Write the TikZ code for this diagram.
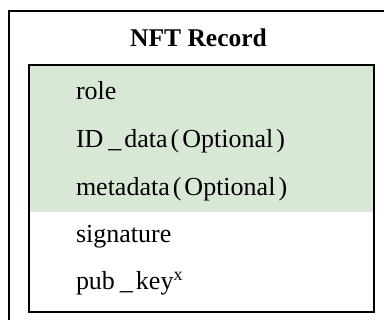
\documentclass[tikz,border=0pt]{standalone}
\usepackage{fontspec}
\setmainfont{Liberation Serif}
\definecolor{nftgreen}{HTML}{D9E7D6}
\begin{document}
\begin{tikzpicture}[x=1pt,y=-1pt,line width=2pt,
  field/.style={anchor=base west,inner sep=0pt,font=\fontsize{26}{30}\selectfont},
  titletext/.style={anchor=base,inner sep=0pt,font=\fontsize{25.5}{30}\selectfont\bfseries}]
\useasboundingbox (0,0) rectangle (384,320);
\begin{scope}
\clip (0,0) rectangle (384,320);
\draw (9,11) rectangle (420,360);
\end{scope}
\fill[nftgreen] (29,65) rectangle (374,212);
\draw (29,65) rectangle (374,312);
\node[titletext] (title) at (198.5,47) {NFT Record};
\node[field] (role) at (75,100) {role};
\node[field] (id) at (75,148) {ID\hspace{5pt}\_\hspace{3pt}data\hspace{3pt}(\hspace{3pt}Optional\hspace{3pt})};
\node[field] (meta) at (75,196) {metadata\hspace{3pt}(\hspace{3pt}Optional\hspace{3pt})};
\node[field] (sig) at (75,243) {signature};
\node[field] (pub) at (75,290) {pub\hspace{5pt}\_\hspace{3pt}key\raisebox{9pt}{\fontsize{18}{20}\selectfont x}};
\end{tikzpicture}
\end{document}
